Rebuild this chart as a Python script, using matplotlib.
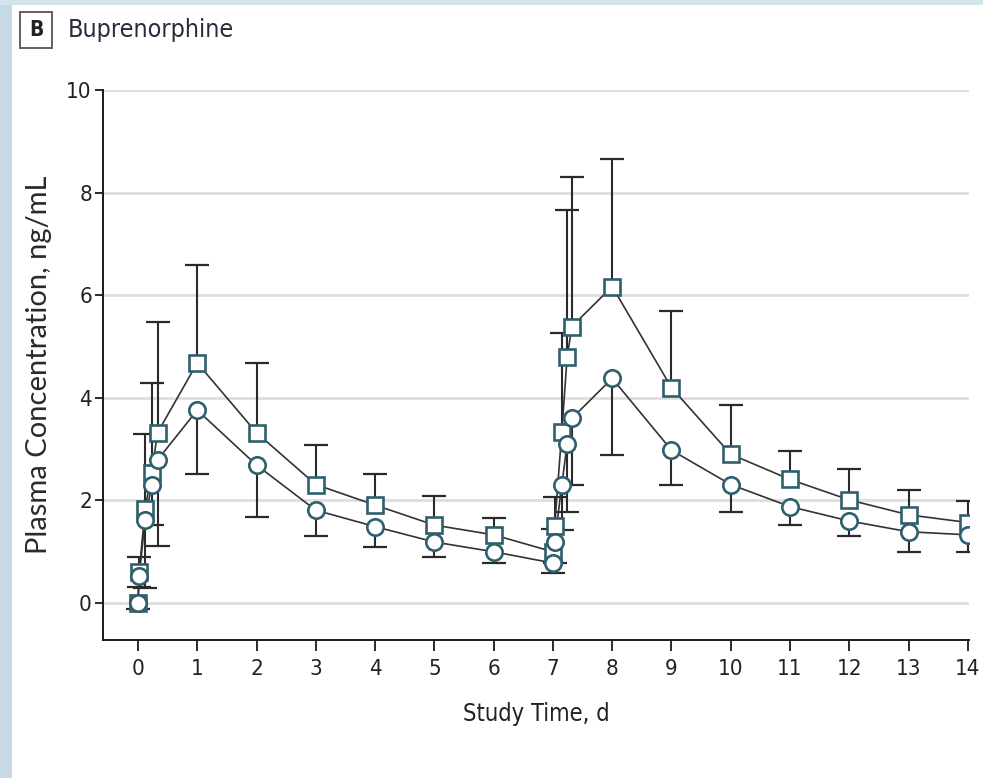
import numpy as np
import matplotlib
matplotlib.use("Agg")
import matplotlib.pyplot as plt
from matplotlib.patches import Rectangle

# ---- data ----
time_d = [0, 0.02, 0.12, 0.23, 0.33, 1, 2, 3, 4, 5, 6,
          7, 7.03, 7.15, 7.24, 7.32, 8, 9, 10, 11, 12, 13, 14]
square_mean = [0.0, 0.60, 1.83, 2.53, 3.32, 4.68, 3.32, 2.31, 1.91, 1.52, 1.33,
               1.00, 1.50, 3.33, 4.79, 5.39, 6.17, 4.20, 2.90, 2.41, 2.01, 1.72, 1.57]
square_upper = [np.nan, 0.90, 3.30, 4.29, 5.48, 6.58, 4.68, 3.08, 2.51, 2.09, 1.66,
                1.44, 2.07, 5.27, 7.67, 8.30, 8.65, 5.69, 3.86, 2.97, 2.61, 2.20, 1.98]
circle_mean = [0.0, 0.52, 1.62, 2.30, 2.79, 3.76, 2.69, 1.81, 1.49, 1.19, 1.00,
               0.78, 1.19, 2.30, 3.10, 3.60, 4.38, 2.98, 2.31, 1.88, 1.60, 1.39, 1.33]
circle_lower = [-0.12, 0.32, 0.30, 1.52, 1.11, 2.51, 1.68, 1.31, 1.10, 0.90, 0.79,
                0.58, 0.78, 1.42, 1.78, 2.30, 2.88, 2.30, 1.78, 1.52, 1.31, 0.99, 0.99]
x_ticks = list(range(0, 15))
y_ticks = [0, 2, 4, 6, 8, 10]

title_letter = "B"
title_text = "Buprenorphine"
x_label = "Study Time, d"
y_label = "Plasma Concentration, ng/mL"

# ---- style ----
plt.rcParams["font.family"] = ["DejaVu Sans"]
plt.rcParams["font.stretch"] = "condensed"

W, H = 983, 778
fig = plt.figure(figsize=(W / 100, H / 100), dpi=100)
fig.patch.set_facecolor("white")

# light blue frame strips on the left and top
fig.patches.append(Rectangle((0, 0), 12 / W, 1, transform=fig.transFigure,
                             facecolor="#c6dae3", edgecolor="none", zorder=0))
fig.patches.append(Rectangle((0, 1 - 5 / H), 1, 5 / H, transform=fig.transFigure,
                             facecolor="#d3e4eb", edgecolor="none", zorder=0))

ax = fig.add_axes([103 / W, 1 - 640 / H, (969 - 103) / W, (640 - 90) / H])
ax.set_xlim(-0.59, 14.02)
ax.set_ylim(-0.72, 10)

for yv in y_ticks:
    ax.axhline(yv, color="#dedede", lw=2.0, zorder=0)

teal = "#2f5f6d"
dark = "#2a2a2a"
t = np.array(time_d, dtype=float)
sm = np.array(square_mean); su = np.array(square_upper)
cm = np.array(circle_mean); cl = np.array(circle_lower)

# error bars (upper for squares, lower for circles)
ok = ~np.isnan(su)
ax.vlines(t[ok], sm[ok], su[ok], color=dark, lw=1.5, zorder=2)
ax.plot(t[ok], su[ok], ls="none", marker="_", ms=17, mew=1.6, color=dark, zorder=2)
ax.vlines(t, cl, cm, color=dark, lw=1.5, zorder=2)
ax.plot(t, cl, ls="none", marker="_", ms=17, mew=1.6, color=dark, zorder=2)

# connecting lines
ax.plot(t, sm, color="#333333", lw=1.2, zorder=2.5)
ax.plot(t, cm, color="#333333", lw=1.2, zorder=2.5)

# markers
ax.plot(t, sm, ls="none", marker="s", ms=11.3, mfc="white", mec=teal, mew=1.9, zorder=3)
ax.plot(t, cm, ls="none", marker="o", ms=11.8, mfc="white", mec=teal, mew=1.9, zorder=4)

# axes styling
for s in ["top", "right"]:
    ax.spines[s].set_visible(False)
for s in ["left", "bottom"]:
    ax.spines[s].set_color("#1a1a1a")
    ax.spines[s].set_linewidth(1.4)

ax.set_xticks(x_ticks)
ax.set_yticks(y_ticks)
ax.tick_params(axis="y", length=6, width=1.3, color="#1a1a1a", labelsize=16, pad=2,
               labelcolor="#222222")
ax.tick_params(axis="x", length=8, width=1.3, color="#1a1a1a", labelsize=16, pad=6,
               labelcolor="#222222")

ax.set_xlabel(x_label, fontsize=17, color="#222222", labelpad=16)
ax.set_ylabel(y_label, fontsize=21, color="#2a2a2a", labelpad=10,
              family=["Lato", "DejaVu Sans"], stretch="normal")

# panel title
fig.text(36 / W, 1 - 30 / H, title_letter, fontsize=15, fontweight="bold",
         ha="center", va="center", color="#222222",
         bbox=dict(boxstyle="square,pad=0.4", fc="white", ec="#555555", lw=1.3))
fig.text(68 / W, 1 - 30 / H, title_text, fontsize=18, ha="left", va="center",
         color="#2a2a3a")

fig.savefig("out.png", dpi=100)
